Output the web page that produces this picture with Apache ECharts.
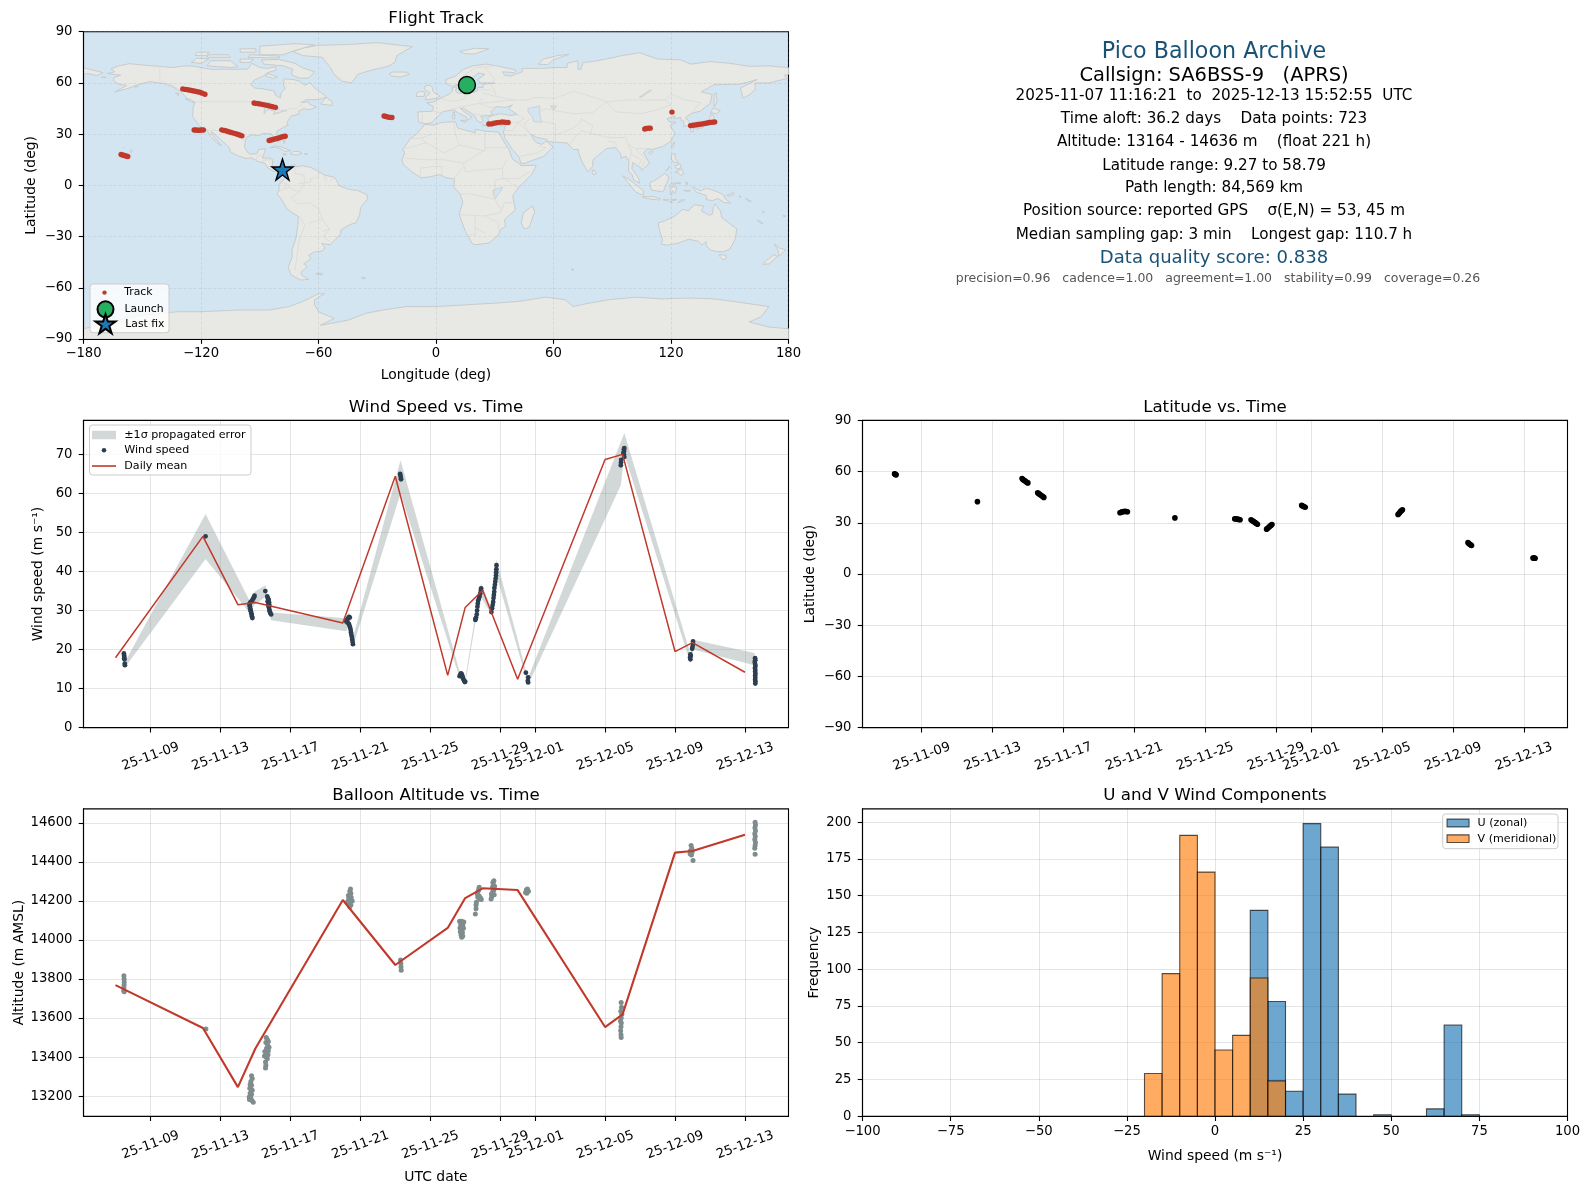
<!DOCTYPE html>
<html><head><meta charset="utf-8">
<script src="https://cdn.jsdelivr.net/npm/echarts@6/dist/echarts.min.js"></script>
<style>html,body{margin:0;padding:0;background:#fff}#c{width:1590px;height:1189px}</style>
</head><body><div id="c"></div>
<script>
// ---------- info panel text: text, font size, colour, x, y
const infoLines = [
 ["Pico Balloon Archive",22.2,"#1a5276",1214,52.4],
 ["Callsign: SA6BSS-9   (APRS)",19.44,"#000",1214,75.7],
 ["2025-11-07 11:16:21  to  2025-12-13 15:52:55  UTC",15.2,"#000",1214,96.5],
 ["Time aloft: 36.2 days    Data points: 723",15.2,"#000",1214,119],
 ["Altitude: 13164 - 14636 m    (float 221 h)",15.2,"#000",1214,142.2],
 ["Latitude range: 9.27 to 58.79",15.2,"#000",1214,165.6],
 ["Path length: 84,569 km",15.2,"#000",1214,188.5],
 ["Position source: reported GPS    σ(E,N) = 53, 45 m",15.2,"#000",1214,211.5],
 ["Median sampling gap: 3 min    Longest gap: 110.7 h",15.2,"#000",1214,235],
 ["Data quality score: 0.838",18.06,"#1a5276",1214,258.7],
 ["precision=0.96   cadence=1.00   agreement=1.00   stability=0.99   coverage=0.26",12.5,"#555",1218,278.7]
];
// ---------- times are day numbers counted from 31 Oct 2025 (9 = 9 Nov, 43 = 13 Dec)
const timeTicks = [9,13,17,21,25,29,31,35,39,43];
const dailyDays = [7,12,14,15,20,23,26,27,28,30,35,36,39,40,43];
const dailyWind = [17.9,49.0,31.5,32.05,26.8,64.4,13.4,30.8,35.2,12.4,68.7,70.0,19.5,21.8,14.2];
const dailyAlt  = [13769,13549,13246,13444,14205,13872,14062,14215,14265,14256,13554,13619,14448,14456,14540];
const windPoints = [
 [7.48,19.0],[7.49,18.6],[7.50,18.2],[7.50,17.8],[7.51,17.5],[7.53,16.4],[7.54,16.0],
 [12.15,49.0],
 [14.95,33.8],[14.92,33.4],[14.88,33.1],[14.82,32.6],[14.76,32.3],[14.70,32.0],[14.66,31.6],[14.68,31.1],[14.70,30.6],[14.72,30.2],[14.74,29.8],[14.77,29.3],[14.79,28.9],[14.80,28.5],[14.83,28.1],
 [15.57,35.0],[15.68,33.6],[15.72,33.1],[15.76,32.8],[15.70,32.3],[15.78,32.1],[15.74,31.6],[15.80,31.4],[15.76,31.1],[15.78,30.7],[15.80,30.2],[15.82,29.8],[15.85,29.4],[15.90,29.0],
 [20.20,27.2],[20.24,27.6],[20.30,28.0],[20.36,28.4],[20.40,28.2],[20.28,26.9],[20.34,26.6],[20.38,26.2],[20.42,25.6],[20.45,25.0],[20.47,24.4],[20.49,23.8],[20.52,23.2],[20.54,22.6],[20.56,22.0],[20.58,21.4],
 [23.28,65.0],[23.30,64.5],[23.32,64.0],[23.33,63.6],
 [26.68,13.2],[26.72,13.6],[26.76,13.9],[26.80,13.7],[26.84,13.2],[26.86,12.8],[26.90,12.4],[26.94,12.0],[26.98,11.7],[27.00,11.8],
 [27.58,27.6],[27.60,27.9],[27.62,28.2],[27.66,29.0],[27.68,30.0],[27.70,31.0],[27.72,31.8],[27.74,32.5],[27.78,33.0],[27.82,33.6],[27.86,34.4],[27.90,35.2],[27.91,35.7],
 [28.50,29.6],[28.54,30.6],[28.57,31.4],[28.60,32.2],[28.62,33.2],[28.64,34.0],[28.66,34.8],[28.67,35.8],[28.70,36.6],[28.72,37.4],[28.74,38.2],[28.76,39.0],[28.77,39.8],[28.78,40.6],[28.79,41.6],
 [30.47,14.1],[30.60,12.9],[30.58,12.0],[30.60,11.6],
 [35.90,67.2],[35.91,67.9],[35.92,68.6],[36.10,69.3],[36.08,69.9],[36.05,70.3],[36.08,70.8],[36.08,71.3],[36.10,71.6],
 [39.88,17.5],[39.86,18.0],[39.90,18.4],[39.88,18.8],[39.98,20.2],[40.00,20.7],[40.03,21.4],[40.03,22.1],
 [43.58,17.8],[43.59,17.3],[43.56,16.8],[43.58,16.3],[43.60,15.8],[43.57,15.3],[43.59,14.8],[43.58,14.3],[43.60,13.8],[43.58,13.3],[43.59,12.8],[43.58,12.3],[43.60,11.8],[43.59,11.3]
];
// day, lower, upper of the error band
const bandDays  = [7.54,12.15,14.66,14.95,15.57,15.90,20.20,20.36,20.58,23.30,26.68,27.00,27.58,27.91,28.50,28.79,30.47,30.60,35.90,36.10,39.88,40.03,43.55,43.60];
const bandLower = [15.5,43.2,29.5,31.5,33.5,27.5,24.7,26.7,20.8,60.0,12.8,11.2,26.9,33.5,28.8,39.0,12.9,11.0,62.1,70.0,16.5,20.0,16.0,10.9];
const bandUpper = [16.8,54.7,32.6,34.8,36.5,29.5,28.0,29.6,23.0,68.5,14.3,12.4,28.9,36.9,30.5,43.0,14.6,12.8,73.2,75.5,18.9,22.5,19.1,12.0];
const altPoints = [
 [7.48,13817],[7.49,13800],[7.50,13785],[7.49,13770],[7.48,13755],[7.47,13740],[7.50,13735],
 [12.17,13544],
 [14.78,13304],[14.82,13290],[14.74,13275],[14.70,13260],[14.78,13255],[14.68,13240],[14.76,13235],[14.82,13230],[14.70,13215],[14.78,13210],[14.65,13195],[14.74,13190],[14.66,13182],[14.80,13178],[14.88,13168],
 [15.62,13501],[15.68,13490],[15.74,13480],[15.60,13475],[15.70,13462],[15.78,13450],[15.64,13445],[15.74,13432],[15.54,13428],[15.66,13420],[15.72,13412],[15.52,13405],[15.62,13400],[15.68,13392],[15.58,13375],[15.60,13358],[15.58,13344],
 [20.44,14262],[20.40,14250],[20.46,14238],[20.32,14228],[20.38,14225],[20.48,14218],[20.34,14212],[20.42,14205],[20.54,14200],[20.28,14198],[20.38,14188],[20.46,14180],[20.40,14170],
 [23.30,13897],[23.32,13880],[23.33,13862],[23.34,13845],
 [26.68,14096],[26.80,14096],[26.92,14092],[26.74,14080],[26.86,14076],[26.70,14062],[26.80,14056],[26.90,14060],[26.72,14042],[26.84,14040],[26.76,14026],[26.86,14020],[26.80,14014],
 [27.58,14133],[27.62,14160],[27.62,14180],[27.64,14193],[27.72,14219],[27.70,14235],[27.80,14225],[27.74,14250],[27.84,14210],[27.78,14262],[27.80,14270],[27.88,14215],[27.92,14208],
 [28.48,14210],[28.52,14222],[28.50,14236],[28.66,14232],[28.58,14250],[28.64,14256],[28.56,14272],[28.62,14282],[28.68,14275],[28.58,14295],[28.64,14304],
 [30.45,14244],[30.50,14258],[30.56,14262],[30.62,14250],[30.52,14240],
 [35.92,13680],[35.94,13655],[35.90,13635],[35.96,13620],[35.92,13600],[35.88,13585],[35.93,13575],[35.91,13555],[35.89,13535],[35.91,13515],[35.92,13501],
 [39.92,14484],[39.96,14470],[39.88,14458],[39.98,14452],[39.86,14442],[39.94,14436],[40.03,14407],
 [43.58,14603],[43.60,14590],[43.57,14575],[43.60,14560],[43.56,14545],[43.59,14530],[43.56,14515],[43.60,14500],[43.58,14485],[43.56,14470],[43.58,14439]
];
const latPoints = [
 [7.47,58.79],[7.49,58.6],[7.52,58.3],[7.56,58.1],
 [12.15,42.4],
 [14.67,55.9],[14.72,55.4],[14.78,54.9],[14.83,54.6],[14.90,54.1],[14.96,53.6],[15.00,53.4],
 [15.55,47.6],[15.60,47.2],[15.65,46.8],[15.72,46.3],[15.78,45.8],[15.84,45.4],[15.90,44.9],
 [20.20,35.9],[20.26,36.2],[20.32,36.4],[20.40,36.6],[20.48,36.7],[20.56,36.6],[20.62,36.5],
 [23.30,32.9],
 [26.68,32.3],[26.74,32.3],[26.82,32.2],[26.90,32.0],[26.98,31.8],
 [27.60,31.8],[27.66,31.4],[27.72,30.9],[27.78,30.5],[27.84,30.1],[27.90,29.6],[27.96,29.2],
 [28.48,26.3],[28.54,26.8],[28.60,27.4],[28.66,28.0],[28.72,28.5],[28.78,29.0],
 [30.46,40.2],[30.52,39.9],[30.58,39.5],[30.66,39.1],
 [35.90,34.9],[35.95,35.5],[36.00,36.1],[36.05,36.7],[36.10,37.2],[36.15,37.6],
 [39.85,18.4],[39.90,17.9],[39.95,17.4],[40.00,17.1],[40.05,16.7],
 [43.52,9.4],[43.56,9.35],[43.60,9.3],[43.64,9.27]
];
const trackPoints = [
 [15.8,58.79],
 [120.5,42.9],
 [-129.3,56.5],[-128,56.2],[-126.8,56],[-125.5,55.7],[-124.2,55.4],[-123,55.1],[-121.8,54.8],[-120.6,54.5],[-119.4,54],[-118,53.4],
 [-92.9,48.2],[-91.8,48],[-90.6,47.8],[-89.4,47.6],[-88.2,47.3],[-87,47],[-85.8,46.7],[-84.6,46.4],[-83.4,46],[-82,45.7],
 [-123.5,32.4],[-122.6,32.4],[-121.7,32.3],[-120.8,32.3],[-119.8,32.4],[-118.8,32.4],
 [-109.4,32.5],[-108.2,32.2],[-107,31.8],[-105.8,31.4],[-104.6,31],[-103.4,30.6],[-102.2,30.2],[-101,29.8],[-100,29.4],[-99.1,29],
 [-85.2,26.3],[-84.2,26.6],[-83.2,26.9],[-82.2,27.2],[-81.2,27.5],[-80.2,27.8],[-79.2,28.2],[-78,28.6],[-77,28.8],
 [-26.5,40.6],[-25.6,40.3],[-24.6,40],[-23.5,39.8],[-22.5,39.7],
 [27,35.9],[28.4,36],[29.6,36.4],[31,36.7],[32.4,36.9],[33.8,37.1],[35.2,37],[36.8,36.8],
 [106.6,33],[107.4,33.3],[108.4,33.5],[109.4,33.5],
 [130,35],[131.2,35.2],[132.4,35.4],[133.6,35.6],[134.8,35.8],[136,36],[137.2,36.3],[138.4,36.5],[139.6,36.8],[141,37],[142.3,37.1],
 [-160.8,18.1],[-160,17.8],[-159.2,17.5],[-158.3,17.2],[-157.4,16.9],
 [-78.4,9.27]
];
const launchPoint = [15.8,58.79];
const lastFixPoint = [-78.4,9.27];
// ---------- histogram bins: left edge, count (5 m/s wide)
const binWidth = 5;
const uBinLeft = [10,15,20,25,30,35,45,60,65,70];
const uCounts  = [140,78,17,199,183,15,1,5,62,1];
const vBinLeft = [-20,-15,-10,-5,0,5,10,15];
const vCounts  = [29,97,191,166,45,55,94,24];
// ---------- base map, lon/lat pairs
const landPolys = [
 [-168,65.5,-164,66.5,-166,68.3,-162,70,-156.5,71.3,-150,70.5,-141,69.7,-135,69,-128,70,-124,69.8,-115,68,-108,68,-101,68,-96,68.2,-94,71.5,-90,69,-86,68.5,-82,69.5,-81.5,67.5,-86,66,-88,64.2,-93,61.5,-94.5,58.8,-92.5,57,-88,56.5,-82.5,55.2,-82,52.8,-79.5,51.2,-79,54.5,-77,56.5,-78,59,-77.5,62.4,-73,62,-69.5,61,-67,58.5,-64.5,60.2,-61.5,56.5,-57,53,-56,51.7,-60,50.2,-66,50.2,-69,48.5,-65,49,-64.5,47.5,-61,46,-64,44.5,-66,44.3,-67,45,-70,43.7,-70,41.7,-74,40.5,-75.5,38,-76,36.8,-75.5,35.2,-78,33.9,-81,32,-81.4,30.5,-80,26.8,-80.5,25.2,-81.8,26,-82.8,28,-84,30,-86,30.4,-89,30.3,-90,29.1,-94,29.6,-97,28,-97.5,25,-97.8,22.5,-96,19,-94.5,18.2,-91.5,18.6,-90.5,21,-87,21.5,-88,18,-88.8,16,-85,16,-83.3,15,-83.7,11,-82,9,-79.5,9.5,-77.4,8.7,-78,7.5,-80,7.3,-80.5,8.2,-83,8.2,-85.7,10,-87.5,13,-91,14,-94,16.1,-97,15.8,-101,17.2,-105,19.5,-105.5,22,-109,25.8,-112.5,29.5,-114.7,31.5,-114.5,30,-111,25,-109.5,23,-112,25,-115,28.5,-117,32.5,-120.5,34.5,-122.5,37.5,-124.3,40.3,-124,46,-123,48.5,-127,50.8,-130,54.5,-134,57.5,-138,59.3,-146,60.8,-152,59,-158,56.5,-164,54.6,-158,58.5,-162,59.2,-165,61.5,-164,63.5,-161,64.5],
 [-73,78.3,-68,80.5,-60,82,-45,82.5,-30,83.6,-18,82,-12,81.3,-20,76,-21,72,-24,70,-27,69,-33,67.5,-40,65,-43,60,-48,61,-52,65,-54,69,-58,75,-68,76],
 [-80,73.7,-72,71.5,-68,68.8,-62,66.5,-65,62.8,-70,62.8,-74,65,-73,68,-78,70,-88,71,-89,73.5],
 [-117,70,-105,69,-101,69.5,-105,73,-115,73],[-125,72,-120,71.5,-116,74,-122,74.5],
 [-90,76.5,-78,76.5,-72,79,-62,82.3,-72,83,-90,81.5],[-96,75,-80,74.6,-80,75.7,-95,76.5],
 [-117,75,-105,75,-106,76.5,-116,76.5],[-100,78,-92,78,-92,80,-100,80],[-100,72,-95,72,-93,74,-100,74],[-123,76,-117,76,-116,78,-122,78],
 [-86,65.5,-81,63.5,-83,62.5,-87,64],[-128,50.7,-124,48.5,-123.5,48.6,-125,50.3],[-133,54,-131.5,54,-131.5,52.5],
 [-59,47.6,-53,46.8,-53,49,-56,51.5,-58,49],
 [-84.9,21.9,-82.5,23.1,-79,22.6,-75,20.7,-74.2,20.2,-77.5,19.9,-78.5,21,-82,22.4],
 [-74.4,18.5,-72.8,19.9,-70,19.8,-68.4,18.6,-71.5,17.8],[-78.3,18.4,-76.3,18.2,-77,17.8],[-67.2,18.5,-65.7,18.4,-66,18],
 [-78,26.8,-77,26.6,-77.5,24.5],[-156,20.8,-155,19.8,-155.7,19],[-159.8,22.2,-159.3,22.2,-159.5,21.9],[-170,63.5,-168.5,63.2,-171,63.2],[-154,58,-152,58.2,-153,57],
 [-77.4,8.7,-75.5,10.8,-72,12.2,-71.5,10.8,-68,11.5,-64,10.5,-60.5,8.5,-57,6,-52,4.8,-50,1.5,-50,0,-44,-2.5,-40,-3,-35.2,-5.5,-34.9,-8,-38.5,-13,-39,-17.5,-41,-22,-44,-23,-48.5,-26,-48.7,-28.5,-52,-32.5,-54,-34.8,-58.3,-34,-56.8,-36.5,-58,-38.5,-62,-39,-65,-41,-63.7,-42.8,-67.5,-46,-65.8,-47.5,-69,-51,-68.5,-52.7,-65,-55,-69,-55.5,-74,-52.5,-75.5,-48,-73.5,-42,-73.5,-37.5,-71.5,-31,-70.5,-23,-70.3,-18.3,-76,-14,-79,-8,-81.2,-5,-80,-2.5,-80.3,0.5,-78.8,1.8,-77.5,4,-77.5,7],
 [-61,-51.5,-58,-51.5,-58,-52.3,-61,-52.3],[-38,-54,-36,-54.2,-37,-54.8],
 [-5.8,35.8,-1,35.2,3,36.9,10,37.3,11,33.6,15,32.3,20,30.8,20,32.8,25,31.7,32,31.2,33.5,28,35.5,24,37.2,21,39,15.5,43.3,12,43.3,11.5,51.2,11.8,49,6.5,42,-1.5,39.2,-6,40.5,-14.5,35,-20,35.5,-24,32.8,-26,32,-29,27,-33.8,20,-34.8,18.4,-34,15,-27,11.8,-17,13.7,-10,12.2,-5,9,-0.8,9.5,3.8,5,4.5,2,6.3,-3,5,-7.7,4.4,-13,8.5,-16.7,12.3,-17.4,14.8,-16,19,-17,21,-13,27.5,-10,30,-6.8,34],
 [49.3,-12,50.4,-15.5,47.5,-24.8,45,-25.5,43.5,-22,44.5,-16.2],
 [-9,38.7,-9.3,43,-2,43.4,-1.2,46,-4.7,48.4,-1.5,48.7,1.5,50.5,4,52,7,53.5,8.5,55.5,8.2,57,10.6,57.7,10,55.5,11,54,14,54,19,54.4,21,55.3,21.3,57.5,24,57.2,24,59.2,28,59.7,30,60,24,60,22.5,60,21.3,62,25,65,22,65.8,17.5,62.5,18.5,60,16.5,56.8,14.3,55.5,12.7,56,11.2,59,8,58,5.2,59.5,5,62,10,64,14,68,19,70,25.5,71,31,70,41,67.5,40,66,34,66.5,35,64.5,38,64,40.5,65,44,66.5,44,68.5,54,68.5,60,69,67,69,67,71.5,72.5,73,72.5,68,74,68,75,72,80,72.5,87,74,95,76,104,77.7,113,74,125,73.5,130,71,140,72.5,150,71.5,160,69.7,170,70,180,68.9,180,65,178,64.5,179,62.5,170,60,163,60,163,56,160,53,156.7,51,155.5,57,164,62,155,59.2,142,59,135.5,54.7,141,53.3,140,48,135,43.5,130.7,42.3,127.5,39.8,129.4,37,129,35.2,126.5,34.5,126.5,37.5,125,38,125,39.7,121.5,39,122,40.7,118,39,119,37.3,122.5,37,119.5,35,122,30.5,120,26,116,22.8,110.5,21,108,21.5,106,19,109,13,105,8.7,104.8,10,100.5,13.5,100,10,103.5,4,104,1.3,101,3,100,6.5,98.3,8,98.5,14,97,17,94.5,16,94.3,18.5,91.8,22,90,22,87,21.5,80.2,15,80,11,77.5,8,74.5,14,72.8,19,72.7,21,70,21,67,24.8,61.5,25.2,57.3,25.7,56.4,27,51.5,28,48.5,30,50,26.5,51.5,25,54,24,56.3,26,59.8,22.5,55,17,45,12.8,43.3,13,42.5,16.5,39,21,35,28,34.9,29.5,34.3,31.3,36,36.5,32,36,30,36.3,27.3,37,26.3,39.5,29,41,33,42,38,41,41.5,41.5,37,45,39,47,35,45.5,33,46,30.5,46,28,43,29,41.2,26,40.8,23,40.4,24,38,23,36.5,21,38,19.5,41,14,45.2,12.4,45,16,41.8,18.4,40,16,38,15.7,40,12,42,9,44.3,3.5,43.2,0,39.5,-2,36.8,-5.5,36.1,-9,37],
 [-180,68.9,-175,67.5,-170,66,-173,64.3,-178,65.5,-180,65],
 [-5.5,50,1.3,51.2,1.7,52.8,0,53.5,-1.5,55,-2,57.5,-3,58.6,-5.2,58.5,-6,56.5,-3,54,-5,52],[-10,52,-6,52.2,-5.7,54.5,-8,55.2,-10,54],
 [-24,65.5,-22,66.4,-15,66.3,-13.6,65,-18.5,63.4,-22.5,64],[12,78.5,20,80.3,27,80,20,77,15,77],[52,71,57,70.7,60,73.5,68,76.8,62,76,55,74],
 [12.5,38,15.5,38.2,15,36.7],[8.3,41,9.7,41,9.6,39,8.5,39],[8.6,43,9.5,43,9.3,41.5],[23.6,35.5,26.3,35.2,24.7,34.9],[32.4,35,34.5,35.6,33.5,34.6],
 [130.9,34,135,35.5,137,37,139.8,38.5,140,40.5,141.3,41.4,142,39.5,141,37,140.8,35.7,137,34.6,135.5,33.5,132.5,34],
 [130,33.5,131.8,33.5,131.3,31.3,130.2,31.3],[132.5,33.8,134.5,34.2,134.2,33.3,133,32.8],[140,41.7,141.5,45.4,145.2,43.7,143.3,42,141,42.5],[142,46,143.5,49,143,54.3,142,53.5,142,49],
 [120.2,23,121.5,25.3,122,25,120.8,22],[108.7,19.3,110.5,20.2,111,19.6,109.5,18.2],[79.8,9,81.2,8.5,81.8,7,80.5,6,79.8,7.5],
 [120,16,120.6,18.5,122.2,18.4,122,16,124,13,121,13.7],[122,7.5,125.5,9.7,126.5,7,125,5.8,123.5,7.5],[122,11.5,125,12.5,125,10.2,123,9.5],[117.2,8.4,119.5,11.3,118.5,9.3],
 [109,1.5,111.5,2.8,114,4.6,116.8,7,119,5,117.7,1,116,-3.8,113,-3.3,110,-2.8],[95.3,5.6,98,4,103.5,-1,106,-3.2,105.8,-5.8,102,-4,98.5,1],
 [105.3,-6.7,108.5,-6.6,111,-6.5,114.5,-7.8,114.3,-8.6,108,-7.8],[119.7,-5.5,119.5,0,120.5,1.3,125,1.5,121,0.5,120.3,-1,123,-1,122,-4.8,120.7,-3,120.4,-5.6],
 [116,-8.4,119,-8.4,118,-9],[120,-8.5,123,-8.3,121,-9],[123.5,-10.3,127,-8.4,125,-8.6],[119,-9.5,120.8,-10.1,120,-9.4],[126.5,-3,130,-3,128.5,-3.6],[127.5,2,128.6,1.5,128,0],
 [131,-0.8,135,-3.3,138,-1.7,141,-2.6,145,-4.5,147.8,-6.5,147,-7,150.5,-10.5,147,-10,144,-7.7,141,-9,138,-8.3,138,-6,133,-4],
 [148.5,-5.7,152,-4.2,152,-5.5,149,-6.3],[155,-6,156,-7,155,-6.8],[158,-7.5,161,-9.5,159,-9],[164,-20.2,167,-22.3,166,-22.2],[167,-15,167.5,-16,166.7,-15.8],[177.3,-17.5,178.6,-18,177.5,-18.3],
 [172.7,-34.4,175.5,-36.8,178.5,-37.7,177,-39.5,175,-41.5,174.8,-39.8,174.7,-38],[172.5,-40.6,174.3,-41.7,171,-45,170.5,-46,167,-46.3,168.5,-44.2],
 [144.7,-40.7,148.3,-40.9,148,-43,146.5,-43.6,145.2,-42.2],[69,-49,70.5,-49.2,69.5,-49.8],
 [113.5,-22,114,-26,115.7,-32,115,-34.4,118,-35,123.5,-33.9,129,-31.6,134,-32.7,135.7,-35,138,-33,138,-35.6,140.5,-38,143.5,-38.8,146.5,-39,150,-37.5,153,-31,153.5,-25.5,149.5,-22,146,-19,145.2,-15,142.5,-10.8,141.6,-13,141,-17,139.5,-17.5,135.5,-15,136.8,-12.2,132,-11.3,130,-13.5,129,-15,126,-14,122,-18,117,-20.7],
 [-180,-84,-165,-80,-158,-77.5,-146,-75.5,-131.5,-74,-120,-74,-100,-73,-85,-73,-75,-71,-68,-68,-60,-63.5,-57,-63.5,-62,-67,-62,-70,-60,-74,-52,-78,-59,-82,-45,-79,-36,-75,-27,-73,-15,-71,0,-71,15,-70,30,-69,42,-68,56,-65.5,66,-67,70,-71,76,-69.5,88,-67,102,-65.5,115,-66.5,130,-66,142,-66.5,155,-68.5,170,-71,166,-77,160,-80,170,-83,180,-84,180,-90,-180,-90]
];
const lakePolys = [
 [47,45,53,46.5,53,41,54,37,50,37.3,49,40.5,47,43],[58.5,46.5,61.5,46.5,60,44],
 [-92,46.7,-85,47,-85,48.5,-89,48.3],[-87.8,41.8,-85.8,44.5,-83,43.5,-80,44.5,-81,46,-85,46,-87.5,45.5],[-83,41.6,-79,42.8,-80,42.9,-83,42.2],[-79.5,43.3,-76.3,43.5,-76.5,44,-79,43.9],
 [103.8,51.6,105,51.7,110,55.7,109,55.6],[29,-3,34,-1,33.5,-2.5,30,-8,29.5,-6]
];
const borderLines = [
 [-123,49,-95,49,-89,48,-84,46.5,-82.5,45,-82.5,42,-79,43,-75,45,-71,45,-69,47.3,-67.8,45.5],[-141,69.7,-141,60.3,-135,59,-130,55],[-117,32.5,-106.5,31.7,-103,29,-97.2,26],[-92,14.5,-91,17.5,-89,17.8],[-89,14,-87,15,-83.5,15],[-85.7,11,-83.7,11],[-83,8.5,-82.5,9.5],
 [-72,12,-72,7,-67.5,6,-67,1.5,-70,-4,-74,-7.5,-70,-11,-65,-10,-60,-13.5,-58,-20,-54.5,-25.7,-57.5,-30.2,-53.5,-33.5],[-60,8,-60,5,-64,4,-64,2,-70,1],[-70,-18,-67,-23,-70,-33,-72,-50],[-65,-22,-58,-20],[-80,-3.5,-75,-1,-70,-4],[-78,1.5,-75,0],[-57,6,-56,2],[-52,4.8,-54,2.5],[-58,-27,-54.5,-25.7],
 [28,59.8,31,52,40,50,47,50,50,51.5,61,51,70,55,77,53,87,49,98,50,107,50,117,50,120,53.5,127,50,135,48.5,131,43],[74,39,80,35,79,30.5,88,28,97,28,98,24,102,21.5,108,21.5],[87,49,92,43,105,42,112,44,120,47,117,50],[52,42,56,45,62,43.5,70,42,80,42.5,87,49],[48,39,45,36,48,30],[61,25,61,36,54,37.5],[61,29.5,70,33.5,74,37,74,39],[68,24,74,32,79,30.5],[88,26,92,25,92,22],[35,29.5,47,29],[52,23,56,22,52,19,43,17],[98,24,100,20,98.5,14],[102,21.5,107,15,105,10.5],[100,18,105,15,103,11],[36,36.5,42,37,45,39,41.5,41.5],[42,37,39,32,35,32],[125,38,128,38.5],[42,37,48,30],
 [-2,43.4,3,42.5],[8,49,2.5,51],[14.5,54,15,51,12,50,8,49],[7,44,13.5,46.5],[13.5,46,22,48,28,45.5],[24,51,22,49],[21,56,28,56],[24,54,31,52],[11.2,59,14,64,20,69],[25,69,30,62,28,60],[20,69,29,69.5],[19.5,42,23,41,26,41.5],[-7,42,-7,37],[22,48,40,50],[28,45.5,30.5,46],
 [-13,27.5,-8,27.5,-5,25,4,19,12,23.5,15,23,25,20,25,31.5],[25,22,37,22],[-17,21,-5,25],[-16,16,-5,15,4,15,14,13,15,8,24,9,34,10,36,15],[14,13,24,20],[-8,5,-8,10,-2,11,3,11,3,6],[9,4,14,11],[12,-5,17,-5,30,-8,30,3,35,4,42,-1.5],[34,10,34,4,42,4,48,8],[12,-17,24,-18,33,-16,35,-10,40.5,-10.5],[20,-18,20,-29,17,-29],[25,-18,32,-22,32,-26],[30,-8,33,-14],[-2,30,-8,27.5],[9,37,10,30,12,23.5],[25,-28,20,-25]
];
const ff = '"DejaVu Sans"';
const days = d => Date.UTC(2025,9,31) + d*864e5;
const starPath = 'path://M50 0 L61.2 34.5 L97.6 34.5 L68.2 55.9 L79.4 90.5 L50 69.1 L20.6 90.5 L31.8 55.9 L2.4 34.5 L38.8 34.5 Z';

const col = [83.5,862.5], row = [31.7,420.4,808.9], W = 705, H = 307.3;
const grids = [[0,0],[0,1],[1,1],[0,2],[1,2]].map(([c,r]) => ({
  left:col[c], top:row[r], width:W, height:H, show:true, borderColor:'#000', borderWidth:1.1, backgroundColor: r===0 ? '#d4e5f2' : 'transparent'
}));
const gridLine = {show:true, lineStyle:{color:'#000', opacity:0.1, width:1}};
const mapGrid = {show:true,lineStyle:{color:'#7f8f8f',opacity:0.22,width:0.8,type:[3,2]}};
function axis(idx, extent, ticks, fmt, extra, margin){
  return Object.assign({
    type:'value', gridIndex:idx, min:extent[0], max:extent[1],
    axisLine:{show:true, onZero:false, lineStyle:{color:'#000', width:1.1}},
    axisTick:{show:true, length:4.8, customValues:ticks, lineStyle:{color:'#000', width:1.1}},
    axisLabel:{show:true, customValues:ticks, color:'#000', fontSize:13.2, fontFamily:ff, margin:margin, formatter:fmt, hideOverlap:false},
    splitLine:gridLine,
    nameLocation:'middle', nameTextStyle:{color:'#000', fontSize:13.9, fontFamily:ff}
  }, extra||{});
}
const pad = n => String(n).padStart(2,'0');
const dateFmt = v => { const d=new Date(v); return pad(d.getUTCFullYear()%100)+'-'+pad(d.getUTCMonth()+1)+'-'+pad(d.getUTCDate()); };
function timeAxis(idx, lo, hi, extra){
  const a = axis(idx, [days(lo),days(hi)], timeTicks.map(days), dateFmt, extra, 22);
  Object.assign(a.axisLabel,{rotate:20, align:'center', verticalAlign:'top', padding:[0,4.4,0,0]});
  return a;
}
const numFmt = v => String(v).replace('-','\u2212');
const xAxes = [
  axis(0,[-180,180],[-180,-120,-60,0,60,120,180],numFmt,{name:'Longitude (deg)',nameGap:29,z:3,splitLine:mapGrid},8.5),
  timeAxis(1,5.17,45.49),
  timeAxis(2,5.66,45.47),
  timeAxis(3,5.17,45.49,{name:'UTC date',nameGap:54}),
  axis(4,[-100,100],[-100,-75,-50,-25,0,25,50,75,100],numFmt,{name:'Wind speed (m s\u207B\u00B9)',nameGap:33},8.5)
];
const latTicks=[-90,-60,-30,0,30,60,90];
const yAxes = [
  axis(0,[-90,90],latTicks,numFmt,{name:'Latitude (deg)',nameGap:45,z:3,splitLine:mapGrid},11),
  axis(1,[0,78.7],[0,10,20,30,40,50,60,70],numFmt,{name:'Wind speed (m s\u207B\u00B9)',nameGap:38},11),
  axis(2,[-90,90],latTicks,numFmt,{name:'Latitude (deg)',nameGap:45},11),
  axis(3,[13097,14672],[13200,13400,13600,13800,14000,14200,14400,14600],numFmt,{name:'Altitude (m AMSL)',nameGap:54},11),
  axis(4,[0,209],[0,25,50,75,100,125,150,175,200],numFmt,{name:'Frequency',nameGap:41},11)
];
function ptsToPx(api,a){ const out=[]; for(let i=0;i<a.length;i+=2) out.push(api.coord([a[i],a[i+1]])); return out; }
const bars = (name,left,counts,color,z) => ({
  type:'custom', name, xAxisIndex:4, yAxisIndex:4, z,
  data:left.map((l,i)=>[l,l+binWidth,counts[i]]), encode:{x:[0,1],y:2},
  itemStyle:{color,opacity:0.65,borderColor:'#000',borderWidth:1.1},
  renderItem:(p,api)=>{
    const a=api.coord([api.value(0),api.value(2)]), b=api.coord([api.value(1),0]);
    return {type:'rect',shape:{x:a[0],y:a[1],width:b[0]-a[0],height:b[1]-a[1]},
      style:{fill:color,stroke:'#000',lineWidth:1.1,opacity:0.65}};
  }
});
const scatter = (name,x,y,data,color,size,z,extra) => Object.assign({
  type:'scatter', name, xAxisIndex:x, yAxisIndex:y, data, symbol:'circle', symbolSize:size, z,
  itemStyle:{color,opacity:1}, silent:true
}, extra||{});
const series = [
  {type:'custom',name:'land',xAxisIndex:0,yAxisIndex:0,z:0,clip:true,silent:true,data:landPolys.map((p,i)=>[i]),
   renderItem:(p,api)=>({type:'polygon',shape:{points:ptsToPx(api,landPolys[api.value(0)])},style:{fill:'#e8e8e4',stroke:'#c4c8c8',lineWidth:0.9}})},
  {type:'custom',name:'lakes',xAxisIndex:0,yAxisIndex:0,z:1,clip:true,silent:true,data:lakePolys.map((p,i)=>[i]),
   renderItem:(p,api)=>({type:'polygon',shape:{points:ptsToPx(api,lakePolys[api.value(0)])},style:{fill:'#d4e5f2',stroke:'#c4c8c8',lineWidth:0.7}})},
  {type:'custom',name:'borders',xAxisIndex:0,yAxisIndex:0,z:1,clip:true,silent:true,data:borderLines.map((p,i)=>[i]),
   renderItem:(p,api)=>({type:'polyline',shape:{points:ptsToPx(api,borderLines[api.value(0)])},style:{fill:'none',stroke:'#d9dbd9',lineWidth:0.8}})},
  scatter('Track',0,0,trackPoints,'#c0392b',5.4,5),
  scatter('Launch',0,0,[launchPoint],'#27ae60',17,6,{itemStyle:{color:'#27ae60',opacity:1,borderColor:'#000',borderWidth:1.4}}),
  scatter('Last fix',0,0,[lastFixPoint],'#1f77b4',21,6,{symbol:starPath,itemStyle:{color:'#1f77b4',opacity:1,borderColor:'#000',borderWidth:1.4}}),
  {type:'custom',name:'\u00B11\u03C3 propagated error',xAxisIndex:1,yAxisIndex:1,z:2,silent:true,
   data:bandDays.map((d,i)=>[days(d),bandLower[i],bandUpper[i]]),encode:{x:0,y:[1,2]},
   itemStyle:{color:'#7f8c8d',opacity:0.35},
   renderItem:(p,api)=>{
     if(p.dataIndex!==0) return;
     const up=bandDays.map((d,i)=>api.coord([days(d),bandUpper[i]]));
     const lo=bandDays.map((d,i)=>api.coord([days(d),bandLower[i]])).reverse();
     return {type:'polygon',shape:{points:up.concat(lo)},style:{fill:'#7f8c8d',opacity:0.35}};
   }},
  scatter('Wind speed',1,1,windPoints.map(p=>[days(p[0]),p[1]]),'#2c3e50',4.8,3),
  {type:'line',name:'Daily mean',xAxisIndex:1,yAxisIndex:1,z:4,symbol:'none',silent:true,data:dailyDays.map((d,i)=>[days(d),dailyWind[i]]),lineStyle:{color:'#c0392b',width:1.5},itemStyle:{color:'#c0392b'}},
  scatter('Latitude',2,2,latPoints.map(p=>[days(p[0]),p[1]]),'#000',5.6,3),
  scatter('Altitude',3,3,altPoints.map(p=>[days(p[0]),p[1]]),'#7f8c8d',5,3),
  {type:'line',name:'Altitude daily mean',xAxisIndex:3,yAxisIndex:3,z:4,symbol:'none',silent:true,data:dailyDays.map((d,i)=>[days(d),dailyAlt[i]]),lineStyle:{color:'#c0392b',width:2.1},itemStyle:{color:'#c0392b'}},
  bars('U (zonal)',uBinLeft,uCounts,'#1f77b4',3),
  bars('V (meridional)',vBinLeft,vCounts,'#ff7f0e',4)
];
function legendItem(name,iconCx,rowY,w,h,textLeft,fs,icon,itemStyle){
  const l={show:true,left:iconCx-w/2,top:rowY-Math.max(h,14)/2,padding:0,itemWidth:w,itemHeight:h,itemGap:0,
    data:[name],selectedMode:false,z:10,
    textStyle:{fontSize:fs,color:'#000',fontFamily:ff,lineHeight:14,padding:[0,0,0,textLeft-(iconCx+w/2)-5]}};
  if(icon) l.icon=icon;
  if(itemStyle) l.itemStyle=itemStyle;
  return l;
}
const legends = [
  legendItem('Track',104.5,292.6,4.4,4.4,124.3,10.8,'circle'),
  legendItem('Launch',104.5,308.3,16,16,123.5,10.8,'circle'),
  legendItem('Last fix',104.5,323.3,20,20,124.3,10.8,starPath),
  legendItem('\u00B11\u03C3 propagated error',104,435,24,8.5,124.3,11.1,'rect',{color:'#7f8c8d',opacity:0.35,borderWidth:0}),
  legendItem('Wind speed',104,450.3,4.6,4.6,124.3,11.1,'circle'),
  legendItem('Daily mean',104,466,24,1.6,124.3,11.1,'rect',{color:'#c0392b',opacity:1,borderWidth:0}),
  legendItem('U (zonal)',1457.5,823,22,7.7,1477,11.1,'rect',{color:'#1f77b4',opacity:0.65,borderColor:'#000',borderWidth:1.1}),
  legendItem('V (meridional)',1457.5,838.7,22,7.7,1477,11.1,'rect',{color:'#ff7f0e',opacity:0.65,borderColor:'#000',borderWidth:1.1})
];
const frame=(x,y,w,h)=>({type:'rect',z:9,shape:{x,y,width:w,height:h,r:3},style:{fill:'rgba(255,255,255,0.8)',stroke:'#cccccc',lineWidth:1}});
const graphics = [frame(90,284,79,48.7),frame(89.5,425,161.5,50),frame(1442.7,814,115.3,34.7)].concat(
  infoLines.map(([text,size,color,x,y])=>({type:'text',x,y,z:5,style:{text,fontSize:size,fontFamily:ff,fill:color,align:'center',verticalAlign:'middle'}}))
);
const mkTitle=(text,cx,top)=>({text,left:cx,top:top-4.5,padding:0,textAlign:'center',textVerticalAlign:'bottom',textStyle:{fontSize:16.67,fontWeight:'normal',color:'#000',fontFamily:ff}});
const titles=[mkTitle('Flight Track',436,row[0]),mkTitle('Wind Speed vs. Time',436,row[1]),mkTitle('Latitude vs. Time',1215,row[1]),mkTitle('Balloon Altitude vs. Time',436,row[2]),mkTitle('U and V Wind Components',1215,row[2])];
const chart=echarts.init(document.getElementById('c'),null,{renderer:'canvas',useUTC:true});
chart.setOption({useUTC:true,animation:false,backgroundColor:'#fff',textStyle:{fontFamily:ff},title:titles,grid:grids,xAxis:xAxes,yAxis:yAxes,series,legend:legends,graphic:graphics});
</script></body></html>
